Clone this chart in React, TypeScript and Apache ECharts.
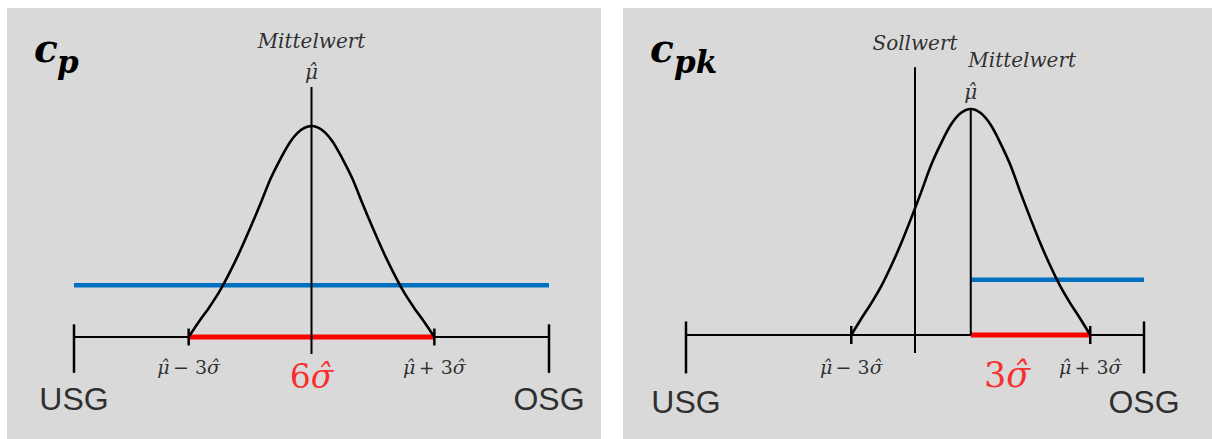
import React, { useEffect, useRef } from "react";
import * as echarts from "echarts";

// Bell curve shape: offset from the mean in sigma units, relative height (peak = 1)
const curveX = [-3, -2.75, -2.5, -2.25, -2, -1.75, -1.5, -1.25, -1, -0.75, -0.5, -0.25, 0, 0.25, 0.5, 0.75, 1, 1.25, 1.5, 1.75, 2, 2.25, 2.5, 2.75, 3];
const curveY = [0, 0.072, 0.14, 0.215, 0.305, 0.405, 0.515, 0.63, 0.75, 0.847, 0.93, 0.982, 1, 0.982, 0.93, 0.847, 0.75, 0.63, 0.515, 0.405, 0.305, 0.215, 0.14, 0.072, 0];

// Spec limits (USG, OSG) in sigma units from the estimated mean
const cpLimits = [-5.8, 5.8];
const cpkLimits = [-7.15, 4.35];
const cpkTarget = [-1.4]; // Sollwert
const sigmaBounds = [-3, 3];
const blueLevel = [0.245];
const limitNames = ["USG", "OSG"];
const centerNames = ["Mittelwert", "Sollwert"];

const BLACK = "#000000";
const RED = "#ff0000";
const BLUE = "#0070c0";
const GRAY = "#d9d9d9";
const SERIF = '"DejaVu Serif", serif';
const SANS = '"Liberation Sans", Arial, sans-serif';

const MU = "\u03bc\u0302";
const SIGMA = "\u03c3\u0302";

function seg(gi: number, pts: number[][], color: string, width: number, z = 2) {
  return {
    type: "line",
    xAxisIndex: gi,
    yAxisIndex: gi,
    data: pts,
    symbol: "none",
    silent: true,
    clip: false,
    z,
    lineStyle: { color, width, cap: "butt" },
  };
}

const mathRich = (size: number, color: string) => ({
  i: { fontFamily: SERIF, fontStyle: "italic", fontSize: size, color },
  n: { fontFamily: SERIF, fontSize: size, color },
});

function labelItem(x: number, y: number, text: string, label: any) {
  return { value: [x, y], label: { show: true, position: "inside", formatter: text, ...label } };
}

function panelSeries(gi: number, limits: number[], cpk: boolean) {
  const curve = curveX.map((x, k) => [x, curveY[k]]);
  const s: any[] = [];
  s.push(seg(gi, [[limits[0], 0], [limits[1], 0]], BLACK, 2, 2));
  if (cpk) {
    s.push(seg(gi, [[0, 0], [sigmaBounds[1], 0]], RED, 5, 3));
    s.push(seg(gi, [[0, blueLevel[0]], [limits[1], blueLevel[0]]], BLUE, 4.5, 3));
  } else {
    s.push(seg(gi, [[sigmaBounds[0], 0], [sigmaBounds[1], 0]], RED, 5, 3));
    s.push(seg(gi, [[limits[0], blueLevel[0]], [limits[1], blueLevel[0]]], BLUE, 4.5, 3));
  }
  s.push({ ...seg(gi, curve, BLACK, 2.6, 4), smooth: 0.3 });
  if (cpk) {
    s.push(seg(gi, [[cpkTarget[0], 1.185], [cpkTarget[0], -0.08]], BLACK, 2, 5));
    s.push(seg(gi, [[0, 1], [0, 0]], BLACK, 2, 5));
  } else {
    s.push(seg(gi, [[0, 1.185], [0, -0.08]], BLACK, 2, 5));
  }
  limits.forEach((l) => s.push(seg(gi, [[l, 0.06], [l, -0.17]], BLACK, 2.5, 5)));
  sigmaBounds.forEach((b) => s.push(seg(gi, [[b, 0.04], [b, -0.04]], BLACK, 2.5, 5)));

  const math = { rich: mathRich(19, BLACK) };
  const sans = { fontFamily: SANS, fontSize: 32, color: BLACK };
  const titleItal = { fontFamily: SERIF, fontStyle: "italic", fontSize: 20, color: BLACK };
  const labels: any[] = [
    labelItem(limits[0], -0.295, limitNames[0], sans),
    labelItem(limits[1], -0.295, limitNames[1], sans),
    labelItem(sigmaBounds[0], -0.142, `{i|${MU}} {n|\u2212 3}{i|${SIGMA}}`, math),
    labelItem(sigmaBounds[1], -0.142, `{i|${MU}} {n|+ 3}{i|${SIGMA}}`, math),
  ];
  if (cpk) {
    labels.push(labelItem(cpkTarget[0], 1.292, centerNames[1], titleItal));
    labels.push(labelItem(1.29, 1.217, centerNames[0], titleItal));
    labels.push(labelItem(0, 1.077, `{i|${MU}}`, { rich: mathRich(20, BLACK) }));
    labels.push(labelItem(0.91, -0.177, `{n|3}{i|${SIGMA}}`, { rich: mathRich(35, RED) }));
  } else {
    labels.push(labelItem(0, 1.403, centerNames[0], titleItal));
    labels.push(labelItem(0, 1.256, `{i|${MU}}`, { rich: mathRich(20, BLACK) }));
    labels.push(labelItem(0, -0.185, `{n|6}{i|${SIGMA}}`, { rich: mathRich(33, RED) }));
  }
  s.push({
    type: "scatter",
    xAxisIndex: gi,
    yAxisIndex: gi,
    symbolSize: 1,
    silent: true,
    clip: false,
    itemStyle: { color: "transparent" },
    z: 6,
    data: labels,
  });
  return s;
}

export default function App() {
  const ref = useRef<HTMLDivElement>(null);
  useEffect(() => {
    if (!ref.current) return;
    const chart = echarts.init(ref.current, undefined, { renderer: "svg" });
    const titleFont = (size: number) => `italic bold ${size}px ${SERIF}`;
    chart.setOption({
      animation: false,
      backgroundColor: "#ffffff",
      grid: [
        { left: 74, top: 31.05, width: 475, height: 390.35 },
        { left: 686, top: 7.3, width: 458, height: 418.1 },
      ],
      xAxis: [
        { gridIndex: 0, type: "value", min: cpLimits[0], max: cpLimits[1], show: false },
        { gridIndex: 1, type: "value", min: cpkLimits[0], max: cpkLimits[1], show: false },
      ],
      yAxis: [
        { gridIndex: 0, type: "value", min: -0.4, max: 1.45, show: false },
        { gridIndex: 1, type: "value", min: -0.4, max: 1.45, show: false },
      ],
      graphic: {
        elements: [
          { type: "rect", z: -10, silent: true, shape: { x: 7, y: 8, width: 594, height: 431 }, style: { fill: GRAY } },
          { type: "rect", z: -10, silent: true, shape: { x: 623, y: 8, width: 589, height: 431 }, style: { fill: GRAY } },
          { type: "text", x: 34, y: 48, style: { text: "c", font: titleFont(39), fill: BLACK, verticalAlign: "middle" } },
          { type: "text", x: 57, y: 62, style: { text: "p", font: titleFont(31), fill: BLACK, verticalAlign: "middle" } },
          { type: "text", x: 650, y: 48, style: { text: "c", font: titleFont(39), fill: BLACK, verticalAlign: "middle" } },
          { type: "text", x: 674, y: 62, style: { text: "pk", font: titleFont(31), fill: BLACK, verticalAlign: "middle" } },
        ],
      },
      series: [...panelSeries(0, cpLimits, false), ...panelSeries(1, cpkLimits, true)],
    });
    return () => chart.dispose();
  }, []);
  return <div ref={ref} style={{ position: "absolute", left: 0, top: 0, width: 1212, height: 439 }} />;
}
